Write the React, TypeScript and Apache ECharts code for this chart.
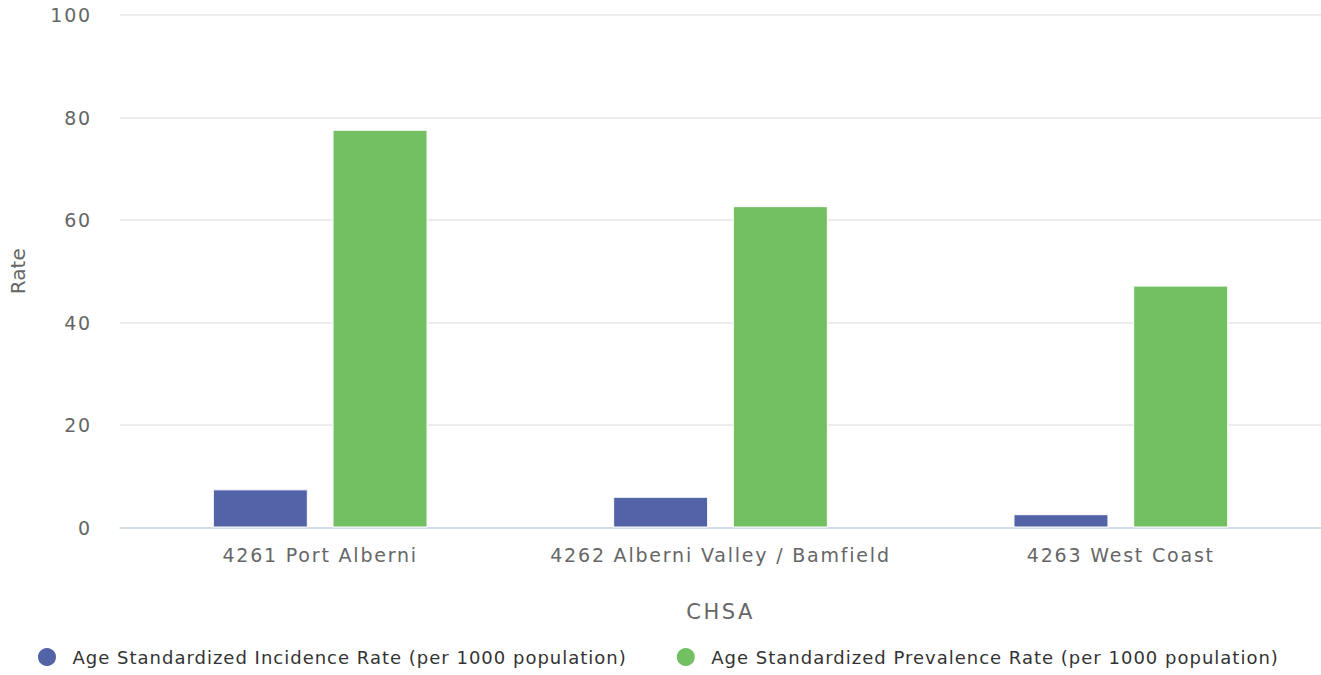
import React, { useEffect, useRef } from "react";
import * as echarts from "echarts";

const categories = ["4261 Port Alberni", "4262 Alberni Valley / Bamfield", "4263 West Coast"];
const incidence = [7.45, 6.0, 2.6];
const prevalence = [77.6, 62.7, 47.2];
const seriesNames = [
  "Age Standardized Incidence Rate (per 1000 population)",
  "Age Standardized Prevalence Rate (per 1000 population)",
];
const yTicks = { min: 0, max: 100, interval: 20 };
const yTickLabels = ["0", "20", "40", "60", "80", "100"];
const xName = "CHSA";
const yName = "Rate";

const FONT = "DejaVu Sans";

function applySpacing(root: HTMLElement) {
  const texts = root.querySelectorAll("text");
  texts.forEach((t) => {
    const s = (t.textContent || "").trim();
    let ls = "";
    if (categories.includes(s) || yTickLabels.includes(s)) ls = "1.8px";
    else if (seriesNames.includes(s)) ls = "1px";
    else if (s === xName) ls = "2.5px";
    if (ls) (t as SVGTextElement).style.letterSpacing = ls;
  });
}

export default function App() {
  const ref = useRef<HTMLDivElement>(null);
  useEffect(() => {
    if (!ref.current) return;
    const el = ref.current;
    const chart = echarts.init(el, null, { renderer: "svg" });
    chart.on("finished", () => applySpacing(el));
    chart.setOption({
      animation: false,
      textStyle: { fontFamily: FONT },
      grid: { left: 120, right: 0, top: 15, bottom: 147.5, containLabel: false },
      legend: {
        top: 641,
        left: 31,
        icon: "circle",
        itemWidth: 41,
        itemHeight: 20,
        itemGap: 101,
        textStyle: { fontSize: 18, color: "#333333", fontFamily: FONT },
        data: seriesNames,
      },
      xAxis: {
        type: "category",
        data: categories,
        name: xName,
        nameLocation: "middle",
        nameGap: 74,
        nameTextStyle: { fontSize: 21, color: "#666666", fontFamily: FONT },
        axisLine: { lineStyle: { color: "#ccd6eb", width: 1.5 } },
        axisTick: { show: false },
        axisLabel: { fontSize: 19, color: "#666666", margin: 18, fontFamily: FONT },
      },
      yAxis: {
        type: "value",
        min: yTicks.min,
        max: yTicks.max,
        interval: yTicks.interval,
        name: yName,
        nameLocation: "middle",
        nameGap: 92,
        nameTextStyle: { fontSize: 20, color: "#666666", fontFamily: FONT },
        axisLine: { show: false },
        axisTick: { show: false },
        splitLine: { lineStyle: { color: "#e6e6e6", width: 1.5 } },
        axisLabel: {
          fontSize: 19,
          color: "#666666",
          margin: 28,
          fontFamily: FONT,
          formatter: (v: number) => yTickLabels[Math.round(v / yTicks.interval)] ?? String(v),
        },
      },
      series: [
        {
          name: seriesNames[0],
          type: "bar",
          data: incidence,
          barWidth: 95,
          barGap: "26%",
          itemStyle: { color: "#5363a7", borderColor: "#ffffff", borderWidth: 1 },
        },
        {
          name: seriesNames[1],
          type: "bar",
          data: prevalence,
          barWidth: 95,
          barGap: "26%",
          itemStyle: { color: "#73c062", borderColor: "#ffffff", borderWidth: 1 },
        },
      ],
    });
    applySpacing(el);
    return () => chart.dispose();
  }, []);
  return (
    <div
      ref={ref}
      style={{ position: "absolute", left: 0, top: 0, width: 1321, height: 675 }}
    />
  );
}
